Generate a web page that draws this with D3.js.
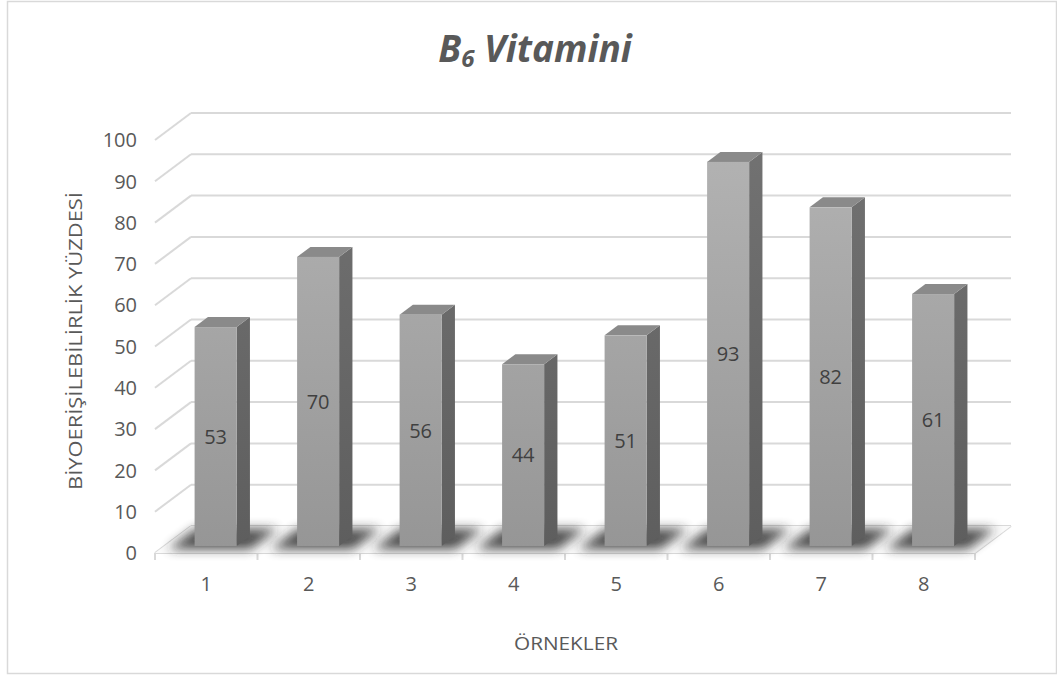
<!DOCTYPE html>
<html>
<head>
<meta charset="utf-8">
<script src="https://cdn.jsdelivr.net/npm/d3@7"></script>
<style>
  html, body { margin: 0; padding: 0; background: #fff; }
  svg { display: block; font-family: "Open Sans", "Noto Sans", sans-serif; }
</style>
</head>
<body>
<svg id="chart" width="1057" height="677"></svg>
<script>
// Data
const categories = ["1", "2", "3", "4", "5", "6", "7", "8"];
const values = [53, 70, 56, 44, 51, 93, 82, 61];
const yTicks = [0, 10, 20, 30, 40, 50, 60, 70, 80, 90, 100];
const titleMain = "B";
const titleSub = "6";
const titleRest = " Vitamini";
const xTitle = "ÖRNEKLER";
const yTitle = "BİYOERİŞİLEBİLİRLİK YÜZDESİ";

const svg = d3.select("#chart");
const W = 1057, H = 677;

// Chart frame
svg.append("rect")
  .attr("x", 7.5).attr("y", 1.5).attr("width", W - 8).attr("height", 672)
  .attr("fill", "#fff").attr("stroke", "#d9d9d9").attr("stroke-width", 1.5);

// Front plane scales + oblique depth projection
const x = d3.scaleBand().domain(categories).range([155, 975]);
const y = d3.scaleLinear().domain([0, 100]).range([553, 140]);
const DX = 36, DY = -27;
const P = (px, py, z) => [px + DX * z, py + DY * z];

const defs = svg.append("defs");
const gFront = defs.append("linearGradient").attr("id", "gFront")
  .attr("gradientUnits", "userSpaceOnUse").attr("x1", 0).attr("y1", 140).attr("x2", 0).attr("y2", 546);
gFront.append("stop").attr("offset", 0).attr("stop-color", "#b3b3b3");
gFront.append("stop").attr("offset", 1).attr("stop-color", "#969696");
const gSide = defs.append("linearGradient").attr("id", "gSide")
  .attr("gradientUnits", "userSpaceOnUse").attr("x1", 0).attr("y1", 140).attr("x2", 0).attr("y2", 546);
gSide.append("stop").attr("offset", 0).attr("stop-color", "#727272");
gSide.append("stop").attr("offset", 1).attr("stop-color", "#5e5e5e");
defs.append("filter").attr("id", "blur").attr("x", "-30%").attr("y", "-80%").attr("width", "160%").attr("height", "260%")
  .append("feGaussianBlur").attr("stdDeviation", 5.5);

const line = d3.line();
const grid = svg.append("g").attr("stroke", "#d9d9d9").attr("stroke-width", 2).attr("fill", "none");

// Floor
const [xl, xr] = x.range();
svg.append("path")
  .attr("d", line([P(xl, y(0), 0), P(xr, y(0), 0), P(xr, y(0), 1), P(xl, y(0), 1)]) + "Z")
  .attr("fill", "#fafafa").attr("stroke", "none");

// Back-wall gridlines and side-wall diagonals
yTicks.forEach(v => {
  grid.append("path").attr("d", line([P(xl, y(v), 1), P(xr, y(v), 1)]));
  grid.append("path").attr("d", line([P(xl, y(v), 0), P(xl, y(v), 1)]));
});
// Floor front edge and category ticks
grid.append("path").attr("d", line([P(xl, y(0), 0), P(xr, y(0), 0)]));
grid.append("path").attr("d", line([P(xr, y(0), 0), P(xr, y(0), 1)]));
categories.concat(["end"]).forEach((c, i) => {
  const px = xl + i * x.step();
  grid.append("path").attr("d", line([[px, y(0)], [px, y(0) + 7]]));
});

// Bars
const z0 = 0.26, z1 = 0.63;
const bw = x.bandwidth() * 0.41;
const bars = svg.append("g");
const data = categories.map((c, i) => ({ c, v: values[i] }));

// floor shadows
bars.selectAll("path.shadow").data(data).enter().append("path")
  .attr("class", "shadow")
  .attr("d", d => {
    const cx = x(d.c) + x.bandwidth() / 2;
    const a = cx - bw / 2 - 22, b = cx + bw / 2 + 18;
    return line([P(a, y(0), 0.14), P(b, y(0), 0.14), P(b, y(0), 0.9), P(a, y(0), 0.9)]) + "Z";
  })
  .attr("fill", "#262626").attr("opacity", 0.8).attr("filter", "url(#blur)");

data.forEach(d => {
  const cx = x(d.c) + x.bandwidth() / 2;
  const a = cx - bw / 2, b = cx + bw / 2;
  const top = y(d.v), base = y(0);
  const g = bars.append("g");
  // side face
  g.append("path")
    .attr("d", line([P(b, top, z0), P(b, top, z1), P(b, base, z1), P(b, base, z0)]) + "Z")
    .attr("fill", "url(#gSide)");
  // top face
  g.append("path")
    .attr("d", line([P(a, top, z0), P(b, top, z0), P(b, top, z1), P(a, top, z1)]) + "Z")
    .attr("fill", "#8a8a8a");
  // front face
  const f0 = P(a, top, z0), f1 = P(b, base, z0);
  g.append("rect")
    .attr("x", f0[0]).attr("y", f0[1]).attr("width", f1[0] - f0[0]).attr("height", f1[1] - f0[1])
    .attr("fill", "url(#gFront)");
  // value label
  g.append("text")
    .attr("x", (f0[0] + f1[0]) / 2).attr("y", (f0[1] + f1[1]) / 2)
    .attr("dy", "0.36em").attr("text-anchor", "middle")
    .attr("font-size", 20).attr("fill", "#404040")
    .text(d.v);
});

// Y tick labels
svg.append("g").selectAll("text").data(yTicks).enter().append("text")
  .attr("x", 137).attr("y", v => y(v)).attr("dy", "0.36em")
  .attr("text-anchor", "end").attr("font-size", 20).attr("fill", "#595959")
  .text(v => v);

// X tick labels
svg.append("g").selectAll("text").data(categories).enter().append("text")
  .attr("x", c => x(c) + x.bandwidth() / 2).attr("y", 584).attr("dy", "0.36em")
  .attr("text-anchor", "middle").attr("font-size", 20).attr("fill", "#595959")
  .text(c => c);

// Axis titles
svg.append("text")
  .attr("x", 566).attr("y", 650).attr("text-anchor", "middle")
  .attr("font-size", 18).attr("fill", "#595959")
  .attr("textLength", 104).attr("lengthAdjust", "spacingAndGlyphs")
  .text(xTitle);
svg.append("text")
  .attr("transform", "translate(82,341) rotate(-90)")
  .attr("text-anchor", "middle").attr("font-size", 18).attr("fill", "#595959")
  .attr("textLength", 298).attr("lengthAdjust", "spacingAndGlyphs")
  .text(yTitle);

// Chart title
const t = svg.append("text")
  .attr("x", 535).attr("y", 62).attr("text-anchor", "middle")
  .attr("font-size", 37).attr("font-weight", "bold").attr("font-style", "italic")
  .attr("fill", "#595959");
t.append("tspan").text(titleMain);
t.append("tspan").attr("font-size", 24).attr("dy", 5).text(titleSub);
t.append("tspan").attr("dy", -5).text(titleRest);
</script>
</body>
</html>
